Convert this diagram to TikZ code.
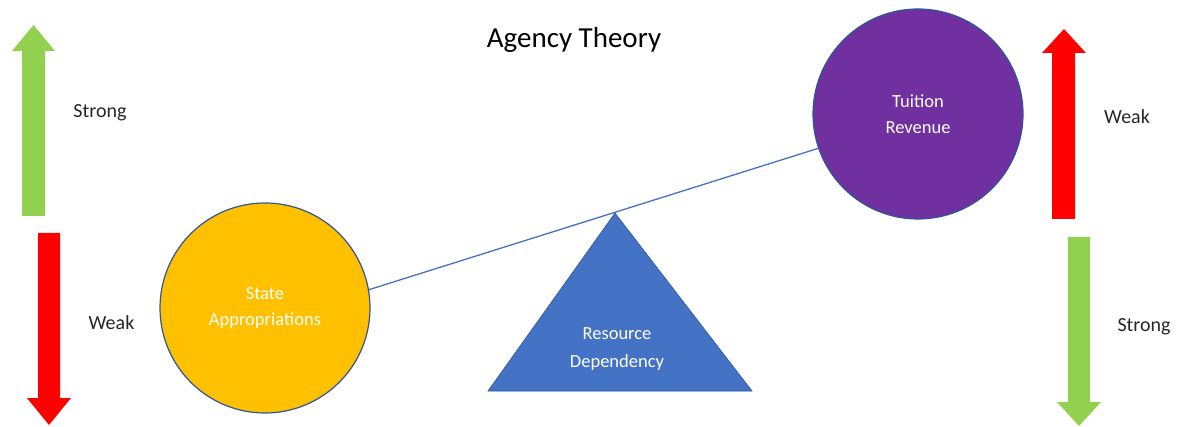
\documentclass[tikz,border=0pt]{standalone}
\usepackage{fontspec}
\setmainfont{Carlito}
\definecolor{agreen}{HTML}{92D050}
\definecolor{ared}{HTML}{FF0000}
\definecolor{ayellow}{HTML}{FFC000}
\definecolor{apurple}{HTML}{7030A0}
\definecolor{ablue}{HTML}{4472C4}
\definecolor{aborder}{HTML}{2F5597}
\definecolor{atext}{HTML}{262626}
\tikzset{
  bigcircle/.style={circle, draw=aborder, line width=1.2pt, minimum size=210pt, inner sep=0pt,
    text=white, align=center, font=\fontsize{18.5}{26.5}\selectfont},
  sidelabel/.style={text=atext, font=\fontsize{20}{24}\selectfont, inner sep=0pt},
  beam/.style={draw=ablue, line width=1.3pt},
  tri/.style={fill=ablue, draw=aborder, line width=0.6pt},
}
\begin{document}
\begin{tikzpicture}[x=1pt,y=-1pt]
\useasboundingbox (0,0) rectangle (1180,427);
% title
\node[font=\fontsize{29}{34}\selectfont, text=black] (title) at (574,40) {Agency Theory};
% left arrows
\fill[agreen] (22,216) -- (22,51) -- (12,51) -- (33.5,25) -- (55,51) -- (45,51) -- (45,216) -- cycle;
\fill[ared] (38,233) -- (38,398) -- (27,398) -- (49,425) -- (71,398) -- (60,398) -- (60,233) -- cycle;
\node[sidelabel] (lstrong) at (100,113) {Strong};
\node[sidelabel] (lweak) at (111.5,323) {Weak};
% right arrows
\fill[ared] (1052,219) -- (1052,53) -- (1042,53) -- (1064,29) -- (1086,53) -- (1075,53) -- (1075,219) -- cycle;
\fill[agreen] (1068,237) -- (1068,402) -- (1057,402) -- (1079,426) -- (1101,402) -- (1090,402) -- (1090,237) -- cycle;
\node[sidelabel] (rweak) at (1127,117) {Weak};
\node[sidelabel] (rstrong) at (1144,327) {Strong};
% fulcrum
\fill[tri] (488,391) -- (615,213) -- (752,391) -- cycle;
\node[text=white, align=center, font=\fontsize{18.5}{27.5}\selectfont] (rd) at (617,349) {Resource\\Dependency};
% circles
\node[bigcircle, fill=ayellow] (sa) at (265,308) {State\\Appropriations};
\node[bigcircle, fill=apurple] (tr) at (918,114) {Tuition\\Revenue};
% beam
\draw[beam] (sa.10) -- (tr.199.5);
\end{tikzpicture}
\end{document}
